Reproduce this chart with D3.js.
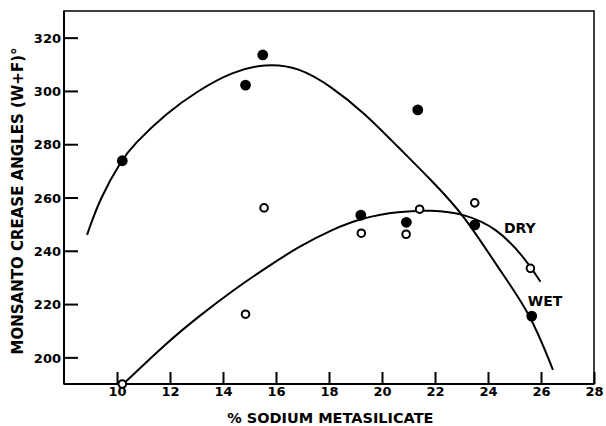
<!DOCTYPE html>
<html>
<head>
<meta charset="utf-8">
<script src="https://cdn.jsdelivr.net/npm/d3@7"></script>
<style>
  body { margin: 0; background: #fff; }
  text { font-family: "DejaVu Sans", sans-serif; font-weight: bold; fill: #000; }
</style>
</head>
<body>
<svg id="chart" width="606" height="426"></svg>
<script>
var width = 606, height = 426;
var margin = {top: 11, right: 12, bottom: 42, left: 64};

// measured points, filled = wet, open = dry
var wetX = [10.2, 14.85, 15.5, 21.35, 19.2, 20.92, 23.5, 25.65];
var wetY = [273.8, 302.2, 313.5, 292.9, 253.4, 250.7, 249.7, 215.5];
var dryX = [10.2, 14.85, 15.55, 19.22, 20.91, 21.42, 23.5, 25.6];
var dryY = [190, 216.2, 256.1, 246.6, 246.2, 255.6, 258, 233.4];

// fitted curves
var wetCurveX = [8.87, 9.35, 10.2, 10.6, 11.85, 13.1, 14.35, 15.6, 16.85, 18.1, 19.35, 20.6, 21.85, 23.1, 24.35, 25.6, 26.45];
var wetCurveY = [246, 259.6, 274.5, 279.5, 291.6, 300.4, 307.2, 310.3, 309, 301.6, 291.6, 279, 266.6, 253.4, 234, 216.5, 195.3];
var dryCurveX = [10.2, 11.85, 13.1, 14.35, 15.6, 16.85, 18.1, 19.35, 20.6, 21.85, 23.1, 24.35, 25.35, 25.98];
var dryCurveY = [189.6, 205.3, 215.5, 225, 233.5, 241.5, 248, 252.6, 254.7, 255.3, 254, 248.4, 237.8, 228.4];

var xTicks = [10, 12, 14, 16, 18, 20, 22, 24, 26, 28];
var yTicks = [200, 220, 240, 260, 280, 300, 320];

var svg = d3.select("#chart");
var w = width - margin.left - margin.right,
    h = height - margin.top - margin.bottom;

var x = d3.scaleLinear().domain([8, 28]).range([0, w]);
var y = d3.scaleLinear().domain([190, 330]).range([h, 0]);

var g = svg.append("g")
    .attr("transform", "translate(" + margin.left + "," + margin.top + ")");

// frame
g.append("rect")
    .attr("width", w).attr("height", h)
    .attr("fill", "none").attr("stroke", "#000").attr("stroke-width", 1.5);
g.append("line").attr("x1", 0).attr("x2", 0).attr("y1", 0).attr("y2", h)
    .attr("stroke", "#000").attr("stroke-width", 2);
g.append("line").attr("x1", 0).attr("x2", w).attr("y1", h).attr("y2", h)
    .attr("stroke", "#000").attr("stroke-width", 2);

// axes with inward ticks
var xAxis = g.append("g")
    .attr("transform", "translate(0," + h + ")")
    .call(d3.axisBottom(x).tickValues(xTicks).tickSizeInner(-12).tickSizeOuter(0).tickPadding(3));
var yAxis = g.append("g")
    .call(d3.axisLeft(y).tickValues(yTicks).tickSizeInner(-14).tickSizeOuter(0).tickPadding(3));

[xAxis, yAxis].forEach(function(a) {
  a.select(".domain").remove();
  a.selectAll(".tick line").attr("stroke", "#000").attr("stroke-width", 2);
  a.selectAll(".tick text").style("font-size", "13px").style("font-family", "DejaVu Sans").style("font-weight", "bold");
});
yAxis.selectAll(".tick line").attr("x1", 0);
yAxis.selectAll(".tick text").attr("dy", "0.36em");

// curves
var line = d3.line()
    .x(function(d) { return x(d[0]); })
    .y(function(d) { return y(d[1]); })
    .curve(d3.curveBasis);

g.append("path")
    .datum(d3.zip(wetCurveX, wetCurveY))
    .attr("d", line)
    .attr("fill", "none").attr("stroke", "#000").attr("stroke-width", 2);
g.append("path")
    .datum(d3.zip(dryCurveX, dryCurveY))
    .attr("d", line)
    .attr("fill", "none").attr("stroke", "#000").attr("stroke-width", 2);

// points
g.selectAll(".wet")
    .data(d3.zip(wetX, wetY))
  .enter().append("circle")
    .attr("class", "wet")
    .attr("cx", function(d) { return x(d[0]); })
    .attr("cy", function(d) { return y(d[1]); })
    .attr("r", 5.4)
    .attr("fill", "#000");
g.selectAll(".dry")
    .data(d3.zip(dryX, dryY))
  .enter().append("circle")
    .attr("class", "dry")
    .attr("cx", function(d) { return x(d[0]); })
    .attr("cy", function(d) { return y(d[1]); })
    .attr("r", 3.8)
    .attr("fill", "#fff").attr("stroke", "#000").attr("stroke-width", 2);

// curve labels
g.append("text").attr("x", x(24.6)).attr("y", y(246.7))
    .style("font-size", "14px").text("DRY");
g.append("text").attr("x", x(25.5)).attr("y", y(219.3))
    .style("font-size", "14px").text("WET");

// axis titles
svg.append("text")
    .attr("x", margin.left + x(18.05)).attr("y", 423)
    .attr("text-anchor", "middle")
    .style("font-size", "14.5px")
    .text("% SODIUM METASILICATE");
svg.append("text")
    .attr("transform", "translate(23," + 201 + ") rotate(-90)")
    .attr("text-anchor", "middle")
    .style("font-size", "15px")
    .text("MONSANTO CREASE ANGLES (W+F)°");
</script>
</body>
</html>
